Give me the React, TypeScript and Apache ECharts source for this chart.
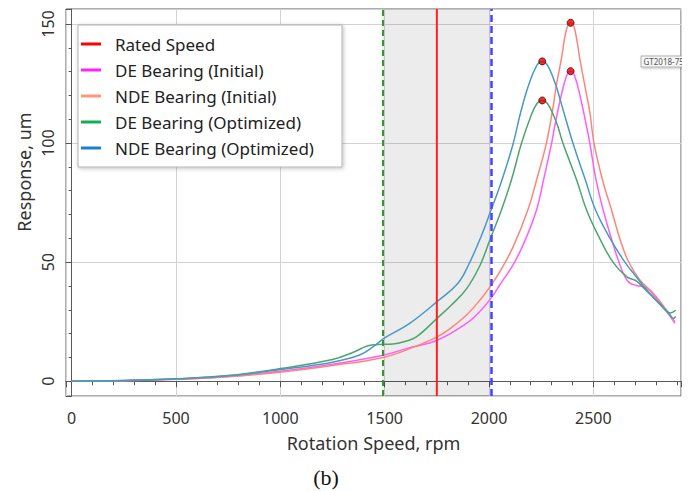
import React, { useEffect, useRef } from "react";
import * as echarts from "echarts";

// ---- data (rpm, response in um) ----
const RATED_SPEED = 1750;
const BAND_START = 1490;
const BAND_END = 2009;
const X_MIN = -27;
const X_MAX = 2920;
const Y_MIN = -6.2;
const Y_MAX = 156.3;

const seriesNames = [
  "Rated Speed",
  "DE Bearing (Initial)",
  "NDE Bearing (Initial)",
  "DE Bearing (Optimized)",
  "NDE Bearing (Optimized)",
];

const deInitial: [number, number][] = [
  [0, 0], [250, 0.25], [500, 0.8], [750, 2.0], [1000, 4.2], [1250, 7.1], [1493, 10.9],
  [1604, 13.7], [1751, 17.2], [1892, 24.3], [1956, 29.3], [2009, 34.8], [2052, 40.5],
  [2116, 49], [2170, 58.5], [2228, 72], [2260, 84], [2300, 100], [2316, 107.6],
  [2341, 118], [2371, 128.1], [2391, 130.2], [2411, 128.1], [2441, 118], [2466, 107.6],
  [2483, 100], [2512, 85], [2547, 71.9], [2600, 56], [2640, 46], [2670, 41.5],
  [2707, 40.2], [2755, 39.2], [2800, 35], [2850, 29.5], [2891, 24.3],
];

const ndeInitial: [number, number][] = [
  [0, 0], [250, 0.25], [500, 0.8], [750, 1.9], [1000, 3.8], [1250, 6.6], [1493, 10.0],
  [1636, 14.2], [1751, 18.6], [1820, 22.5], [1892, 27.8], [1956, 34.0], [2009, 40.2],
  [2052, 46], [2116, 56.5], [2186, 71.9], [2228, 84.5], [2275, 100], [2307, 115],
  [2321, 123.3], [2347, 135.5], [2371, 147.6], [2391, 150.5], [2411, 147.6],
  [2435, 135.5], [2461, 123.3], [2483, 113], [2503, 100], [2544, 84.5], [2587, 71.9],
  [2630, 59], [2667, 50.5], [2723, 42.5], [2787, 36.9], [2850, 30], [2891, 24.9],
];

const deOptimized: [number, number][] = [
  [0, 0], [250, 0.3], [500, 1.0], [750, 2.4], [1000, 5.3], [1250, 9.1], [1350, 12.2],
  [1420, 14.9], [1470, 15.4], [1540, 15.6], [1600, 16.8], [1652, 18.6], [1751, 26.4],
  [1820, 32], [1892, 38.8], [1956, 48.5], [2004, 59.3], [2060, 72], [2109, 85],
  [2156, 100], [2200, 111.2], [2230, 116.6], [2255, 117.9], [2280, 116.6], [2310, 111.5],
  [2330, 107], [2354, 100], [2420, 84.5], [2467, 72], [2530, 60], [2594, 50],
  [2659, 43.9], [2707, 42.0], [2760, 37.5], [2820, 32.5], [2870, 28.7], [2895, 29.8],
];

const ndeOptimized: [number, number][] = [
  [0, 0], [250, 0.3], [500, 1.0], [750, 2.3], [1000, 4.9], [1250, 8.0], [1380, 11.0],
  [1450, 14.8], [1500, 18.2], [1620, 24.3], [1751, 33.4], [1850, 41], [1900, 48.5],
  [1956, 59.5], [2004, 70.5], [2060, 84], [2115, 99.5], [2150, 112.3], [2190, 124.4],
  [2230, 132.7], [2255, 134.3], [2280, 132.7], [2320, 124.4], [2345, 117], [2402, 100],
  [2460, 85], [2510, 72], [2580, 60], [2651, 50], [2700, 44.5], [2740, 40],
  [2800, 34], [2860, 28.5], [2883, 26.4], [2895, 27.2],
];

const peakPoints: [number, number][] = [
  [2391, 150.5], [2391, 130.2], [2255, 134.3], [2255, 117.9],
];

const legendColors = ["#ff0000", "#ff22ff", "#ff9a70", "#10b050", "#1f7fcf"];
const lineColors = ["#ff2020", "#ff5cff", "#ff857a", "#4da56d", "#4a98c8"];

const FONT = "'Noto Sans', 'Open Sans', sans-serif";

export default function App() {
  const ref = useRef<HTMLDivElement>(null);
  useEffect(() => {
    if (!ref.current) return;
    const chart = echarts.init(ref.current, undefined, { renderer: "svg" });
    const curve = (name: string, data: [number, number][], color: string) => ({
      name,
      type: "line",
      data,
      smooth: 0.4,
      showSymbol: false,
      symbol: "none",
      lineStyle: { color, width: 1.5 },
      itemStyle: { color },
      z: 3,
    });
    const option: any = {
      animation: false,
      textStyle: { fontFamily: FONT },
      grid: {
        left: 66,
        right: 16,
        top: 9,
        bottom: 95,
        show: true,
        borderColor: "#5a5a5a",
        borderWidth: 1,
        backgroundColor: "transparent",
      },
      xAxis: {
        type: "value",
        min: X_MIN,
        max: X_MAX,
        minInterval: 500,
        maxInterval: 500,
        name: "Rotation Speed, rpm",
        nameLocation: "middle",
        nameGap: 38,
        nameTextStyle: { fontSize: 18, color: "#333", fontFamily: FONT },
        axisLine: { show: true, lineStyle: { color: "#5a5a5a", width: 1 } },
        axisTick: { show: true, inside: false, length: 6, lineStyle: { color: "#555" } },
        minorTick: { show: true, splitNumber: 5, length: 4, lineStyle: { color: "#555" } },
        axisLabel: {
          fontSize: 16,
          color: "#333",
          fontFamily: FONT,
          margin: 14,
          showMinLabel: false,
          showMaxLabel: false,
          formatter: (v: number) => String(v),
        },
        splitLine: { show: true, lineStyle: { color: "#d3d3d3", width: 1 } },
      },
      yAxis: {
        type: "value",
        min: Y_MIN,
        max: Y_MAX,
        minInterval: 50,
        maxInterval: 50,
        axisLine: { show: true, lineStyle: { color: "#5a5a5a", width: 1 } },
        axisTick: { show: true, inside: false, length: 6, lineStyle: { color: "#555" } },
        minorTick: { show: true, splitNumber: 5, length: 3, lineStyle: { color: "#555" } },
        axisLabel: {
          fontSize: 16,
          color: "#333",
          fontFamily: FONT,
          rotate: 90,
          margin: 10,
          showMinLabel: false,
          showMaxLabel: false,
          formatter: (v: number) => String(v),
        },
        splitLine: { show: true, lineStyle: { color: "#d3d3d3", width: 1 } },
      },
      legend: {
        show: true,
        orient: "vertical",
        left: 78,
        top: 25,
        padding: [9, 10, 8, 3],
        itemGap: 6,
        itemWidth: 20,
        itemHeight: 3,
        icon: "rect",
        z: 10,
        textStyle: {
          fontSize: 17,
          color: "#222",
          fontFamily: FONT,
          lineHeight: 20,
          padding: [0, 0, 0, 9],
        },
        data: seriesNames.map((n, i) => ({
          name: n,
          icon: "rect",
          itemStyle: { color: legendColors[i] },
          lineStyle: { color: legendColors[i] },
        })),
      },
      graphic: [
        {
          type: "rect",
          z: 8,
          shape: { x: 78, y: 25, width: 264, height: 142 },
          style: {
            fill: "#ffffff",
            stroke: "#b4b4b4",
            lineWidth: 1,
            shadowBlur: 4,
            shadowOffsetX: 1,
            shadowOffsetY: 1,
            shadowColor: "rgba(0,0,0,0.25)",
          },
        },
        {
          type: "rect",
          z: 8,
          shape: { x: 641, y: 56, width: 50, height: 11 },
          style: {
            fill: "#f6f6f6",
            stroke: "#b0b0b0",
            lineWidth: 1,
            shadowBlur: 2,
            shadowOffsetX: 1,
            shadowOffsetY: 1,
            shadowColor: "rgba(0,0,0,0.25)",
          },
        },
        {
          type: "text",
          z: 9,
          x: 643.5,
          y: 61.5,
          style: {
            text: "GT2018-75",
            fontSize: 8,
            fontFamily: FONT,
            fill: "#555",
            verticalAlign: "middle",
          },
        },
        {
          type: "rect",
          z: 9,
          shape: { x: 682, y: 0, width: 20, height: 200 },
          style: { fill: "#ffffff" },
        },
        {
          type: "text",
          z: 9,
          x: 24,
          y: 172,
          rotation: Math.PI / 2,
          style: {
            text: "Response, um",
            fontSize: 18,
            fontFamily: FONT,
            fill: "#333",
            align: "center",
            verticalAlign: "middle",
          },
        },
        {
          type: "text",
          z: 9,
          x: 326,
          y: 477,
          style: {
            text: "(b)",
            fontSize: 22,
            fontFamily: "'Liberation Serif', 'Times New Roman', serif",
            fill: "#111",
            align: "center",
            verticalAlign: "middle",
          },
        },
      ],
      series: [
        {
          name: seriesNames[0],
          type: "line",
          data: [
            [RATED_SPEED, Y_MIN],
            [RATED_SPEED, Y_MAX],
          ],
          symbol: "none",
          lineStyle: { color: lineColors[0], width: 2 },
          itemStyle: { color: lineColors[0] },
          z: 4,
          markArea: {
            silent: true,
            itemStyle: { color: "rgba(0,0,0,0.075)" },
            data: [[{ xAxis: BAND_START }, { xAxis: BAND_END }]],
          },
          markLine: {
            silent: true,
            symbol: "none",
            label: { show: false },
            data: [
              { xAxis: BAND_START, lineStyle: { color: "#2e9a2e", width: 2, type: [6, 4] } },
              { xAxis: BAND_END, lineStyle: { color: "#4444ff", width: 2.5, type: [7, 4] } },
            ],
          },
        },
        curve(seriesNames[1], deInitial, lineColors[1]),
        curve(seriesNames[2], ndeInitial, lineColors[2]),
        curve(seriesNames[3], deOptimized, lineColors[3]),
        curve(seriesNames[4], ndeOptimized, lineColors[4]),
        {
          name: "peaks",
          type: "scatter",
          data: peakPoints,
          symbol: "circle",
          symbolSize: 7,
          itemStyle: { color: "#e00000", borderColor: "#5a0000", borderWidth: 1 },
          z: 6,
        },
      ],
    };
    chart.setOption(option);
    return () => chart.dispose();
  }, []);
  return (
    <div
      ref={ref}
      style={{ position: "fixed", left: 0, top: 0, width: 697, height: 491, background: "#fff" }}
    />
  );
}
